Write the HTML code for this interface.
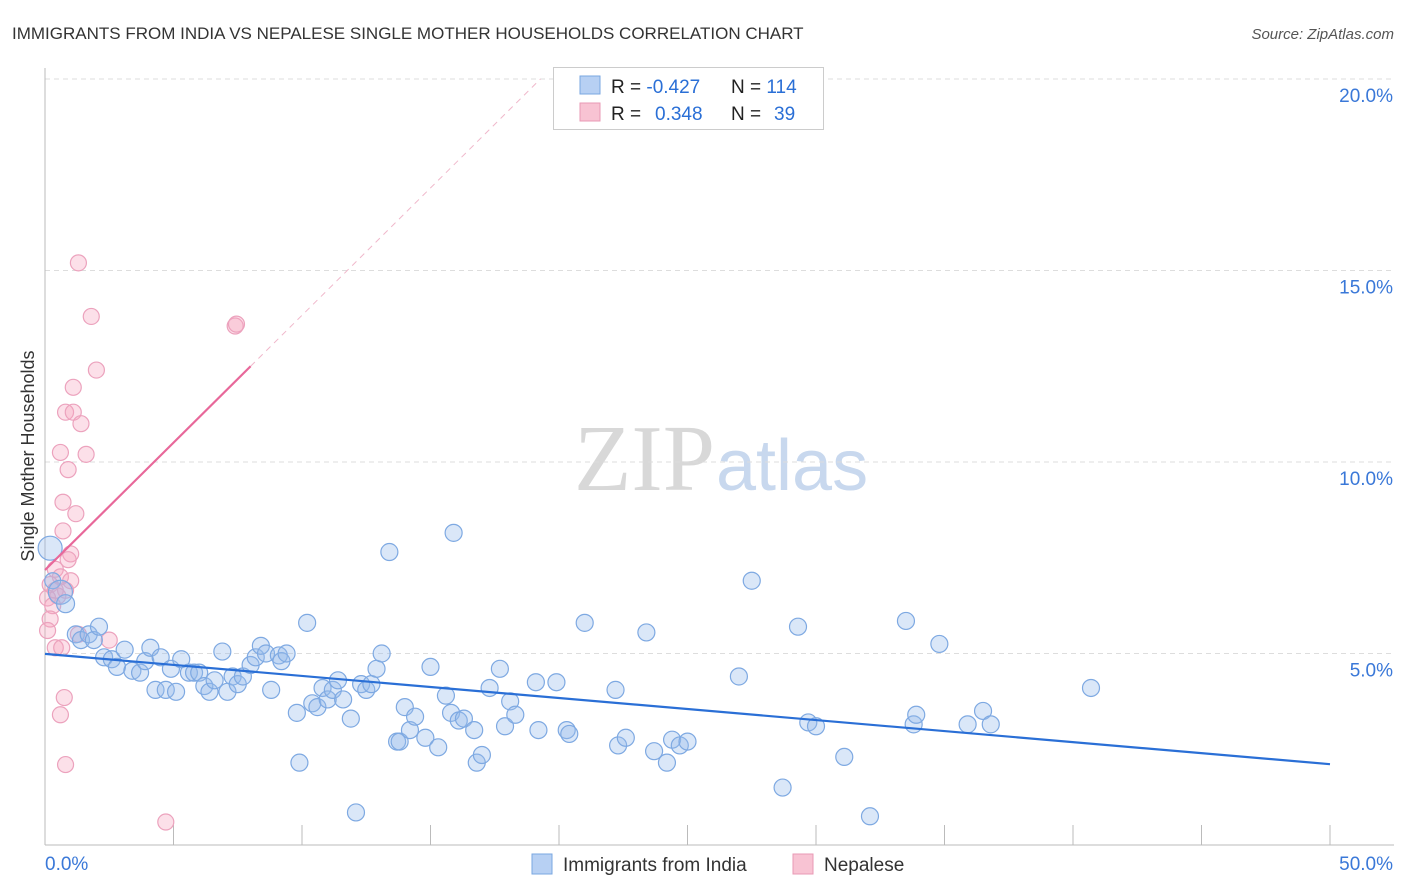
<!DOCTYPE html>
<html><head><meta charset="utf-8"><style>
body{margin:0;background:#fff;font-family:"Liberation Sans",sans-serif;}
svg{display:block}
</style></head><body>
<svg id="chart" width="1406" height="892">
<text x="12" y="39" font-size="17" fill="#333">IMMIGRANTS FROM INDIA VS NEPALESE SINGLE MOTHER HOUSEHOLDS CORRELATION CHART</text>
<text x="1394" y="39" font-size="15" fill="#555" font-style="italic" text-anchor="end">Source: ZipAtlas.com</text>
<text x="715" y="490" font-size="94" fill="#d8d8d8" font-family="Liberation Serif,serif" text-anchor="end">ZIP</text>
<text x="716" y="490" font-size="72" fill="#c8d8ee">atlas</text>
<g id="grid"></g><g id="axes"></g><g id="marks"></g>
<text transform="translate(34,456) rotate(-90)" font-size="18" fill="#333" text-anchor="middle">Single Mother Households</text>
<g>
<rect x="553.5" y="67.5" width="270" height="62" fill="#fff" stroke="#ccc"/>
<rect x="580" y="76" width="20" height="18" fill="#b7d0f3" stroke="#7aa7e0"/>
<rect x="580" y="103" width="20" height="18" fill="#f8c3d3" stroke="#e89ab5"/>
<text x="611" y="93" font-size="19" fill="#222">R = <tspan fill="#2a6fd6">-0.427</tspan></text>
<text x="731" y="93" font-size="19" fill="#222">N = <tspan fill="#2a6fd6">114</tspan></text>
<text x="611" y="120" font-size="19" fill="#222">R = <tspan fill="#2a6fd6" x="655">0.348</tspan></text>
<text x="731" y="120" font-size="19" fill="#222">N = <tspan fill="#2a6fd6" x="774">39</tspan></text>
</g>
<g>
<rect x="532" y="854" width="20" height="20" fill="#b7d0f3" stroke="#7aa7e0"/>
<text x="563" y="871" font-size="19" fill="#333">Immigrants from India</text>
<rect x="793" y="854" width="20" height="20" fill="#f8c3d3" stroke="#e89ab5"/>
<text x="824" y="871" font-size="19" fill="#333">Nepalese</text>
</g>
</svg>
<script>
const yTicks=[5,10,15,20];
const yTickLabels=["5.0%","10.0%","15.0%","20.0%"];
const xEndLabels=["0.0%","50.0%"];
const indiaX=[0.2,0.3,0.6,0.8,1.2,1.4,1.7,1.9,2.1,2.3,2.6,2.8,3.1,3.4,3.7,3.9,4.1,4.3,4.5,4.7,4.9,5.1,5.3,5.6,5.8,6.0,6.2,6.4,6.6,6.9,7.1,7.3,7.5,7.7,8.0,8.2,8.4,8.6,8.8,9.1,9.2,9.4,9.8,9.9,10.2,10.4,10.6,10.8,11.0,11.2,11.4,11.6,11.9,12.1,12.3,12.5,12.7,12.9,13.1,13.4,13.7,13.8,14.0,14.2,14.4,14.8,15.0,15.3,15.6,15.8,15.9,16.1,16.3,16.7,16.8,17.0,17.3,17.7,17.9,18.1,18.3,19.1,19.2,19.9,20.3,20.4,21.0,22.2,22.3,22.6,23.4,23.7,24.2,24.4,24.7,25.0,27.0,27.5,28.7,29.3,29.7,30.0,31.1,32.1,33.5,33.8,33.9,34.8,35.9,36.5,36.8,40.7];
const indiaY=[7.75,6.9,6.6,6.3,5.5,5.35,5.5,5.35,5.7,4.9,4.85,4.65,5.1,4.55,4.5,4.8,5.15,4.05,4.9,4.05,4.6,4.0,4.85,4.5,4.5,4.5,4.15,4.0,4.3,5.05,4.0,4.4,4.2,4.4,4.7,4.9,5.2,5.0,4.05,4.95,4.8,5.0,3.45,2.15,5.8,3.7,3.6,4.1,3.8,4.05,4.3,3.8,3.3,0.85,4.2,4.05,4.2,4.6,5.0,7.65,2.7,2.7,3.6,3.0,3.35,2.8,4.65,2.55,3.9,3.45,8.15,3.25,3.3,3.0,2.15,2.35,4.1,4.6,3.1,3.75,3.4,4.25,3.0,4.25,3.0,2.9,5.8,4.05,2.6,2.8,5.55,2.45,2.15,2.75,2.6,2.7,4.4,6.9,1.5,5.7,3.2,3.1,2.3,0.75,5.85,3.15,3.4,5.25,3.15,3.5,3.15,4.1];
const indiaR=[12,8,12,9];
const nepX=[1.3,1.8,7.4,7.45,2.0,1.1,0.8,1.1,1.4,0.6,1.6,0.9,0.7,1.2,0.7,1.0,0.9,0.4,0.6,1.0,0.2,0.4,0.8,0.5,0.1,0.3,0.2,0.1,2.5,1.3,0.4,0.65,0.75,0.6,0.8,4.7];
const nepY=[15.2,13.8,13.55,13.6,12.4,11.95,11.3,11.3,11.0,10.25,10.2,9.8,8.95,8.65,8.2,7.6,7.45,7.2,7.0,6.9,6.8,6.65,6.65,6.5,6.45,6.25,5.9,5.6,5.35,5.5,5.15,5.15,3.85,3.4,2.1,0.6];
const indiaTrend=[4.99,2.11];
const nepTrend=[7.18,12.5];
const nepTrendXEnd=8.0;

const NS="http://www.w3.org/2000/svg";
const X0=45,X1=1330,YB=845,PY=38.3;
const sx=v=>X0+(X1-X0)*v/50, sy=v=>YB-v*PY;
function mk(tag,attrs,parent){const e=document.createElementNS(NS,tag);for(const k in attrs)e.setAttribute(k,attrs[k]);document.getElementById(parent).appendChild(e);return e;}
yTicks.forEach((t,i)=>{
  const g=mk('line',{x1:X0,x2:1394,y1:sy(t),y2:sy(t),stroke:'#ddd','stroke-dasharray':'5,4'},'grid');
  
  
  const l=mk('text',{x:1393,y:sy(t)+23,'font-size':19,fill:'#3a78d8','text-anchor':'end'},'axes');
  l.textContent=yTickLabels[i];
  
  
});
{const a=mk('line',{x1:X0,x2:X0,y1:68,y2:YB,stroke:'#bbb'},'axes');


const b=mk('line',{x1:X0,x2:1394,y1:YB,y2:YB,stroke:'#bbb'},'axes');

}
for(let v=5;v<=50;v+=5){const t=mk('line',{x1:sx(v),x2:sx(v),y1:YB,y2:YB-20,stroke:'#bbb'},'axes');

}
[[0,'start',45],[50,'end',1393]].forEach((d,i)=>{const l=mk('text',{x:d[2],y:870,'font-size':19,fill:'#3a78d8','text-anchor':d[1]},'axes');l.textContent=xEndLabels[i];

});
nepX.forEach((x,i)=>{const c=mk('circle',{cx:sx(x),cy:sy(nepY[i]),r:8,fill:'rgba(245,165,192,0.35)',stroke:'#eca2bd','stroke-width':1.2},'marks');

});
indiaX.forEach((x,i)=>{const c=mk('circle',{cx:sx(x),cy:sy(indiaY[i]),r:i<4?indiaR[i]:8.5,fill:'rgba(150,185,235,0.35)',stroke:'#7ea9e2','stroke-width':1.2},'marks');

});
{const slope=(nepTrend[1]-nepTrend[0])/nepTrendXEnd;const xe=(20-nepTrend[0])/slope;
const d=mk('line',{x1:sx(nepTrendXEnd),y1:sy(nepTrend[1]),x2:sx(xe),y2:sy(20),stroke:'#f0b8cb','stroke-dasharray':'6,5'},'marks');


const l=mk('line',{x1:sx(0),y1:sy(nepTrend[0]),x2:sx(nepTrendXEnd),y2:sy(nepTrend[1]),stroke:'#e8689a','stroke-width':2.2},'marks');


const b=mk('line',{x1:sx(0),y1:sy(indiaTrend[0]),x2:sx(50),y2:sy(indiaTrend[1]),stroke:'#2a6fd6','stroke-width':2.2},'marks');

}
</script>
</body></html>
